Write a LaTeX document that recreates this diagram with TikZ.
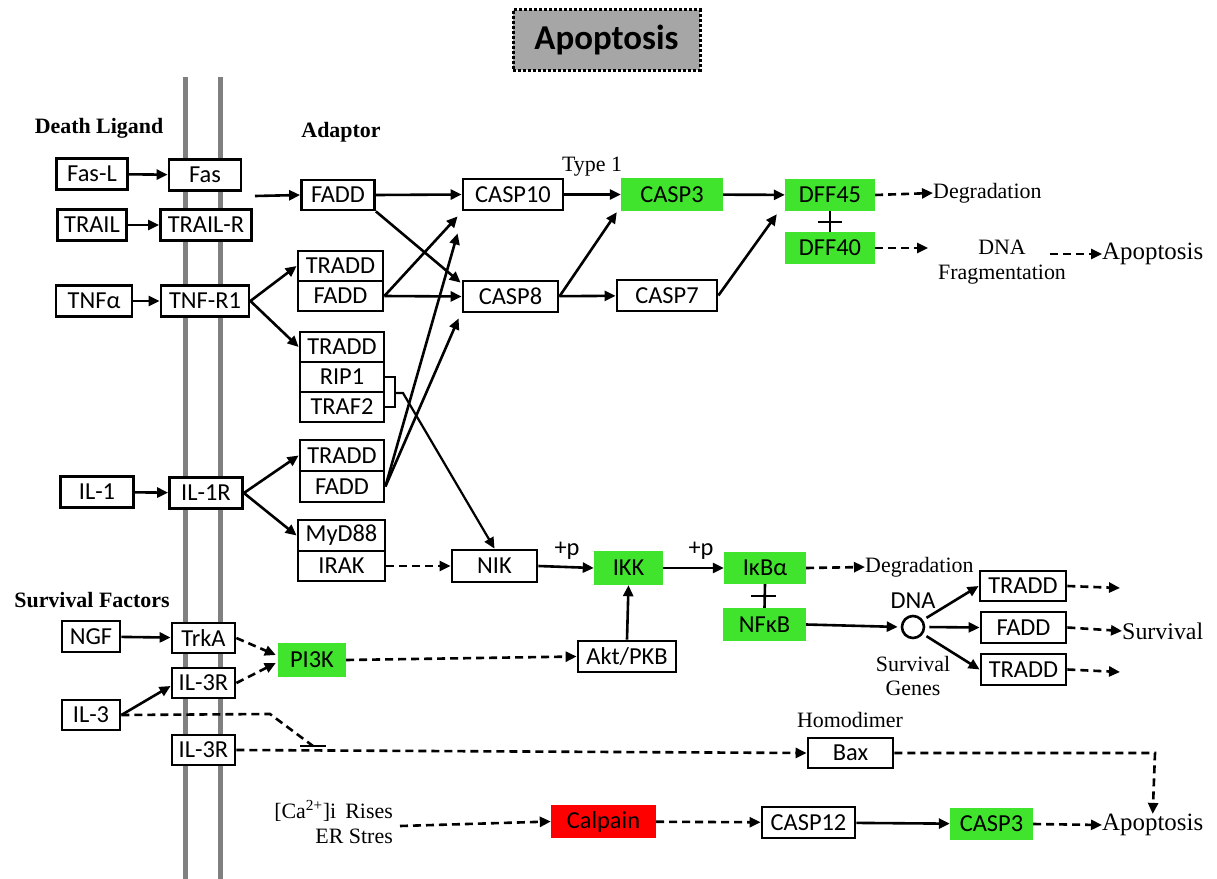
\documentclass[tikz,border=0pt]{standalone}
\usepackage{fontspec}
\setmainfont{Liberation Serif}
\newfontfamily\boxfont{Carlito}
\usetikzlibrary{arrows.meta,calc,positioning}
\definecolor{mygreen}{RGB}{64,228,44}
\definecolor{myred}{RGB}{255,0,0}
\definecolor{membrane}{RGB}{128,128,128}
\definecolor{titlegrey}{RGB}{166,166,166}
\newcommand\bxf{\boxfont\fontsize{24.5}{27}\selectfont}
\newcommand\sef{\fontsize{22}{25}\selectfont}
\tikzset{
  box/.style={draw, line width=2.8bp, font=\bxf, minimum height=31bp, inner sep=0pt, fill=white, minimum width=#1},
  box/.default=80bp,
  gbox/.style={fill=mygreen, font=\bxf, minimum height=33bp, inner sep=0pt, minimum width=#1},
  gbox/.default=80bp,
  rbox/.style={fill=myred, font=\bxf, minimum height=33bp, inner sep=0pt, minimum width=#1},
  lab/.style={font=\sef, inner sep=0pt, align=center},
  blab/.style={font=\sef\bfseries, inner sep=0pt},
  arr/.style={line width=2.6bp, -{Triangle[length=11bp,width=10bp]}},
  darr/.style={arr, dash pattern=on 8bp off 5bp},
  dln/.style={line width=2.6bp, dash pattern=on 8bp off 5bp},
  ln/.style={line width=2.6bp},
}
\begin{document}
\begin{tikzpicture}[x=1bp,y=-1bp]
\useasboundingbox (0,0) rectangle (1217,879);
% membrane
\draw[membrane, line width=5bp] (185,77) -- (185,879);
\draw[membrane, line width=5bp] (220,77) -- (220,879);
% title
\node[draw, fill=titlegrey, line width=3bp, dash pattern=on 3bp off 2bp, minimum width=187bp, minimum height=60bp, inner sep=0pt, font=\boxfont\fontsize{35}{38}\selectfont\bfseries] (title) at (606.5,40) {Apoptosis};
% section labels
\node[blab] (deathlig) at (99,128) {Death Ligand};
\node[blab] (adaptor) at (341,132) {Adaptor};
\node[blab] (survfac) at (92,600) {Survival Factors};
% death ligands and receptors
\node[box=71bp] (fasl) at (92,174) {Fas-L};
\node[box=72bp] (fas) at (205,175) {Fas};
\node[box=69bp] (trail) at (92,225) {TRAIL};
\node[box=91bp] (trailr) at (206,225) {TRAIL-R};
\node[box=76bp] (tnfa) at (94,301) {TNFα};
\node[box=88bp] (tnfr1) at (205,301) {TNF-R1};
\node[box=73bp] (il1) at (97,492) {IL-1};
\node[box=73bp] (il1r) at (206,493) {IL-1R};
% adaptors
\node[box=73bp, minimum height=30bp] (fadd1) at (338,195) {FADD};
\node[box=85bp, minimum height=30bp] (tradd1) at (340.5,266) {TRADD};
\node[box=85bp, minimum height=30bp] (fadd2) at (340.5,296) {FADD};
\node[box=84bp, minimum height=30bp] (tradd2) at (342,347) {TRADD};
\node[box=84bp, minimum height=30bp] (rip1) at (342,377) {RIP1};
\node[box=84bp, minimum height=30bp] (traf2) at (342,407) {TRAF2};
\node[box=84bp, minimum height=31bp] (tradd3) at (342,455.5) {TRADD};
\node[box=84bp, minimum height=31bp] (fadd3) at (342,486.5) {FADD};
\node[box=87bp, minimum height=31bp] (myd88) at (341.5,535.5) {MyD88};
\node[box=87bp, minimum height=30bp] (irak) at (341.5,566) {IRAK};
% caspases
\node[box=100bp] (casp10) at (513,194.5) {CASP10};
\node[gbox=102bp] (casp3a) at (672,194.5) {CASP3};
\node[lab] (type1) at (592,167) {Type 1};
\node[box=95bp] (casp8) at (510.5,296.5) {CASP8};
\node[box=100bp] (casp7) at (667,295.5) {CASP7};
\node[gbox=90bp, minimum height=32bp] (dff45) at (830,195) {DFF45};
\node[gbox=90bp, minimum height=32bp] (dff40) at (830,248) {DFF40};
\node[lab, anchor=west] (degr1) at (933,193) {Degradation};
\node[lab] (dnafrag) at (1002,262) {DNA\\Fragmentation};
\node[lab, anchor=west, font=\fontsize{25}{28}\selectfont] (apop1) at (1102,254) {Apoptosis};
% NIK row
\node[box=85bp, minimum height=32bp] (nik) at (494.5,566) {NIK};
\node[gbox=69bp, minimum height=34bp] (ikk) at (628.5,568) {IKK};
\node[gbox=82bp, minimum height=32bp] (ikba) at (765,568) {IκBα};
\node[gbox=83bp, minimum height=33bp] (nfkb) at (764.5,624.5) {NFκB};
\node[box=98bp] (akt) at (627,656.5) {Akt/PKB};
\node[font=\bxf, inner sep=0pt] (p1) at (567,551) {+p};
\node[font=\bxf, inner sep=0pt] (p2) at (701,551) {+p};
\node[lab, anchor=west] (degr2) at (865,567) {Degradation};
% survival genes
\node[draw, circle, line width=2.6bp, minimum size=22bp, inner sep=0pt] (dna) at (913,627) {};
\node[font=\bxf, inner sep=0pt] (dnalab) at (913,601) {DNA};
\node[lab] (survgenes) at (913,676) {Survival\\Genes};
\node[box=86bp, minimum height=30bp] (tradd4) at (1023,586) {TRADD};
\node[box=85bp, minimum height=31bp] (fadd4) at (1023.5,627.5) {FADD};
\node[box=85bp, minimum height=31bp] (tradd5) at (1023.5,669.5) {TRADD};
\node[lab, anchor=west, font=\fontsize{24}{27}\selectfont] (survival) at (1122,631) {Survival};
% survival factors
\node[box=58bp] (ngf) at (91,636.5) {NGF};
\node[box=63bp, minimum height=30bp] (trka) at (203.5,638) {TrkA};
\node[box=63bp, minimum height=30bp] (il3r1) at (203.5,683) {IL-3R};
\node[box=58bp, minimum height=30bp] (il3) at (91,715) {IL-3};
\node[box=63bp, minimum height=30bp] (il3r2) at (203.5,750) {IL-3R};
\node[gbox=68bp, minimum height=34bp] (pi3k) at (312,660) {PI3K};
\node[box=85bp, minimum height=30bp] (bax) at (850.5,753) {Bax};
\node[lab] (homod) at (850,720) {Homodimer};
% ER stress
\node[lab, align=right, anchor=east] (calab) at (393,822) {[Ca\textsuperscript{2+}]i\, Rises\\ER Stres};
\node[rbox=105bp] (calpain) at (603.5,821.5) {Calpain};
\node[box=93bp] (casp12) at (808.5,822.5) {CASP12};
\node[gbox=83bp, minimum height=32bp] (casp3b) at (991.5,824) {CASP3};
\node[lab, anchor=west, font=\fontsize{25}{28}\selectfont] (apop2) at (1102,825) {Apoptosis};
% free-end coordinates
\coordinate (fasout) at (255,196);
\coordinate (dff40end) at (928,248);
\coordinate (fragout) at (1050,254);
\coordinate (tr4end) at (1120,588);
\coordinate (tr5end) at (1120,672);
\coordinate (inh1) at (270,714);
\coordinate (inh2) at (313,746);
\coordinate (caout) at (400,826);
\coordinate (baxturn) at (1155,753);
% ligand -> receptor
\draw[arr] (fasl) -- (fas);
\draw[arr] (trail) -- (trailr);
\draw[arr] (tnfa) -- (tnfr1);
\draw[arr] (il1) -- (il1r);
\draw[arr] (fasout) -- (fadd1.west);
\draw[arr] (tnfr1.east) -- (tradd1.west);
\draw[arr] (tnfr1.east) -- (tradd2.west);
\draw[arr] (il1r.east) -- (tradd3.west);
\draw[arr] (il1r.east) -- (myd88.west);
% adaptor -> caspases
\draw[arr] (fadd1.east) -- (casp10.west);
\draw[arr] (fadd1.south east) -- ($(casp8.north west)+(-1,3)$);
\draw[arr] (fadd2.east) -- ($(casp10.south west)+(-4,5)$);
\draw[arr] (fadd2.east) -- (casp8.west);
\draw[arr] (fadd3.east) -- ($(casp10.south west)+(-4,22)$);
\draw[arr] (fadd3.east) -- ($(casp8.south west)+(-3,5)$);
% RIP1/TRAF2 bracket -> NIK
\draw[line width=2bp] (rip1.east) -| (395,407) -- (traf2.east);
\draw[line width=2.2bp, -{Triangle[length=11bp,width=10bp]}] (395,393) -- (403,393) -- (nik.north);
% caspase cascade
\draw[arr] (casp10) -- (casp3a);
\draw[arr] (casp8.east) -- ($(casp3a.south west)+(-4,1)$);
\draw[arr] (casp8) -- (casp7);
\draw[arr] (casp7.east) -- ($(dff45.south west)+(-8,3)$);
\draw[arr] (casp3a) -- (dff45);
\draw[ln] (dff45.south) -- (dff40.north);
\draw[ln] (818,222) -- (842,222);
\draw[darr] (dff45.east) -- (degr1.west);
\draw[darr] (dff40.east) -- (dff40end);
\draw[darr] (fragout) -- (apop1.west);
% NIK row
\draw[darr] (irak.east) -- (nik.west);
\draw[arr] (nik.east) -- (ikk.west);
\draw[arr] (ikk.east) -- (ikba.west);
\draw[arr] (akt.north) -- (ikk.south);
\draw[ln] (ikba.south) -- (nfkb.north);
\draw[ln] (751,596) -- (776,596);
\draw[darr] (ikba.east) -- (degr2.west);
\draw[arr, shorten >=3bp] (nfkb.east) -- (dna.west);
\draw[arr, shorten <=4bp] (dna.35) -- (tradd4.west);
\draw[arr, shorten <=4bp] (dna.east) -- (fadd4.west);
\draw[arr, shorten <=4bp] (dna.-35) -- (tradd5.west);
\draw[darr] (tradd4.east) -- (tr4end);
\draw[darr] (fadd4.east) -- (survival.west);
\draw[darr] (tradd5.east) -- (tr5end);
% survival factors
\draw[arr] (ngf) -- (trka);
\draw[arr] (il3.east) -- ($(il3r1.west)+(0,3)$);
\draw[darr] (trka.east) -- ($(pi3k.west)+(-2,-5)$);
\draw[darr] (il3r1.east) -- ($(pi3k.west)+(-2,3)$);
\draw[darr] (pi3k.east) -- (akt.west);
\draw[dln] (il3.east) -- (inh1) -- (inh2);
\draw[ln] ($(inh2)+(-13,0)$) -- ($(inh2)+(13,0)$);
\draw[darr] (il3r2.east) -- (bax.west);
\draw[darr] (bax.east) -- (baxturn) -- (apop2.north);
% ER stress
\draw[darr] (caout) -- (calpain.west);
\draw[darr] (calpain) -- (casp12);
\draw[arr] (casp12) -- (casp3b);
\draw[darr] (casp3b.east) -- (apop2.west);
\end{tikzpicture}
\end{document}
